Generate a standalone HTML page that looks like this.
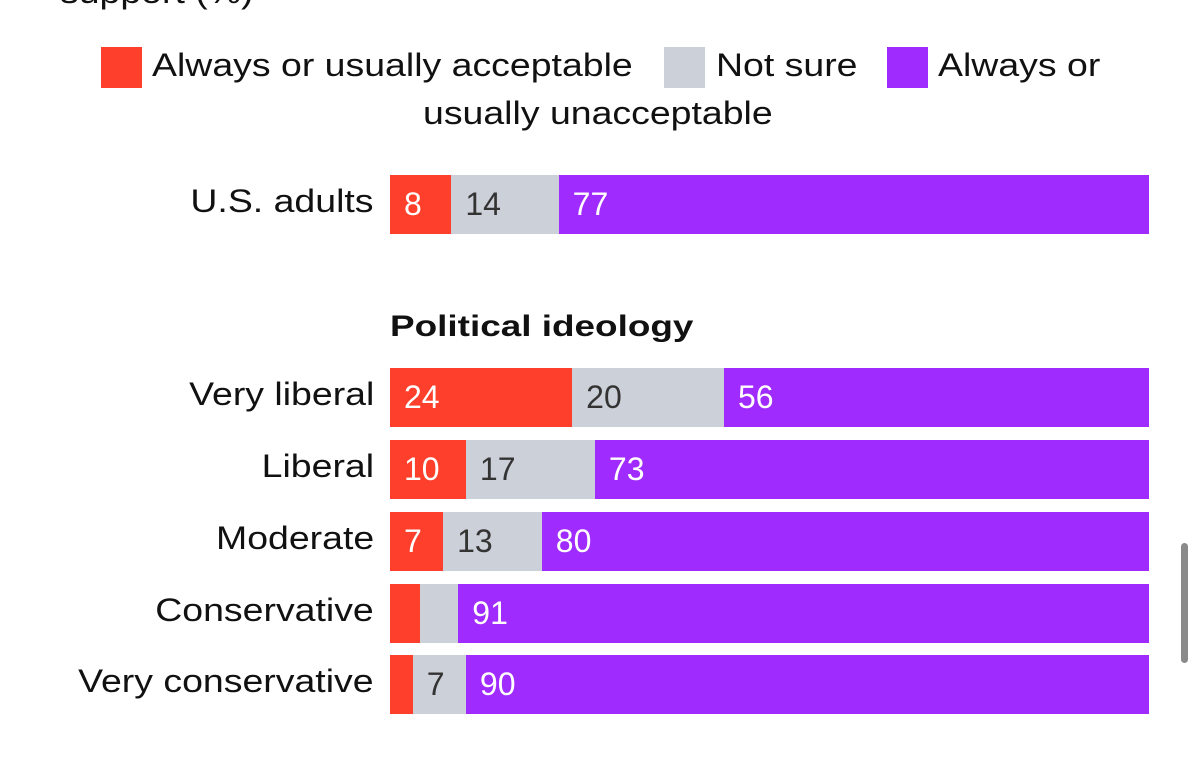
<!DOCTYPE html>
<html><head><meta charset="utf-8"><style>
body{margin:0;width:1200px;height:781px;background:#fff;overflow:hidden;font-family:"Liberation Sans",sans-serif;position:relative}
.t{position:absolute;white-space:nowrap;color:#111;transform:scaleX(1.17);transform-origin:left center}
.r{transform-origin:right center}
</style></head><body>
<div class="t" style="left:60px;top:-26px;font-size:32px">support (%)</div>
<div>
<div style="position:absolute;left:101px;top:47px;width:41px;height:41px;background:#fe3f2b"></div>
<div class="t" style="left:152px;top:47px;font-size:32px">Always or usually acceptable</div>
<div style="position:absolute;left:664px;top:47px;width:41px;height:41px;background:#ccd0d9"></div>
<div class="t" style="left:716px;top:47px;font-size:32px">Not sure</div>
<div style="position:absolute;left:887px;top:47px;width:41px;height:41px;background:#a02bff"></div>
<div class="t" style="left:938px;top:47px;font-size:32px">Always or</div>
<div class="t" style="left:423px;top:95px;font-size:32px">usually unacceptable</div>
</div>
<div class="t" style="left:390px;top:310px;font-size:30px;font-weight:bold;transform:scaleX(1.23)">Political ideology</div>
<div style="position:absolute;left:1181px;top:543px;width:7px;height:120px;border-radius:4px;background:#8a8a8a"></div>
<div id="chart"></div>
<script>
const categories=["U.S. adults","Very liberal","Liberal","Moderate","Conservative","Very conservative"];
const acceptable=[8,24,10,7,4,3];
const notSure=[14,20,17,13,5,7];
const unacceptable=[77,56,73,80,91,90];
const rowTops=[175,368,440,512,584,655];
const X0=390,W=759,H=59;
const colors=["#fe3f2b","#ccd0d9","#a02bff"],txt=["#fff","#333","#fff"];
const series=[acceptable,notSure,unacceptable];
const names=["acceptable","not-sure","unacceptable"];
const chart=document.getElementById('chart');
categories.forEach((c,i)=>{
  const y=rowTops[i];
  const lab=document.createElement('div');
  lab.className='t r';
  
  
  lab.textContent=c;
  lab.style.cssText=`right:${1200-374}px;top:${y+8}px;font-size:32px`;
  chart.appendChild(lab);
  const tot=acceptable[i]+notSure[i]+unacceptable[i];
  let x=X0;
  series.forEach((s,k)=>{
    const w=s[i]/tot*W;
    const seg=document.createElement('div');
    
    
    seg.style.cssText=`position:absolute;left:${x}px;top:${y}px;width:${w}px;height:${H}px;background:${colors[k]};color:${txt[k]};font-size:32px;line-height:${H}px;box-sizing:border-box;padding-left:14px;white-space:nowrap;overflow:hidden`;
    if(w>40)seg.textContent=s[i];
    chart.appendChild(seg);
    x+=w;
  });
});
</script>
</body></html>
